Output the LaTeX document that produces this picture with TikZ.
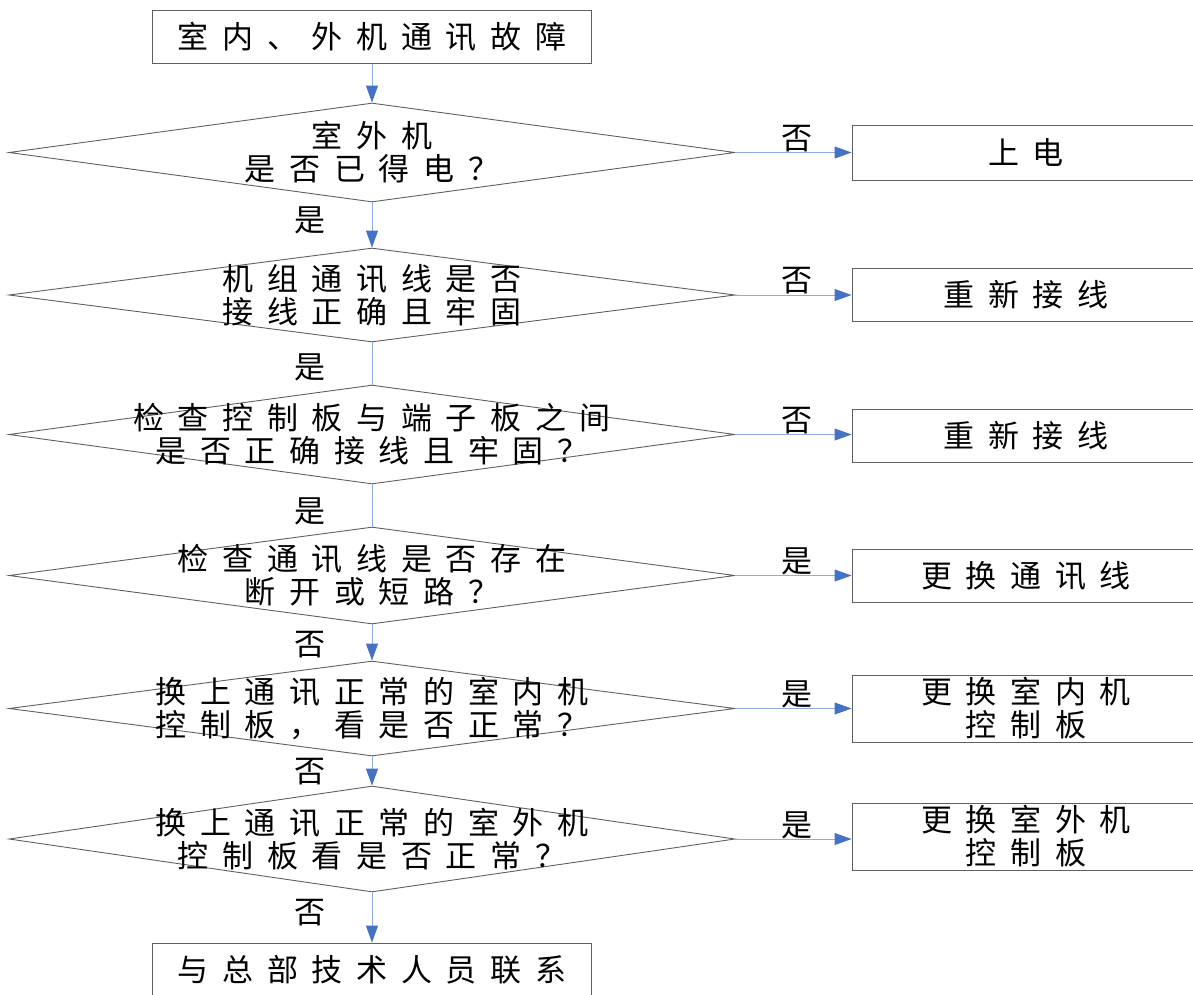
\documentclass[tikz,border=0pt]{standalone}
\usepackage{fontspec}
\newfontfamily\cjk[LetterSpace=44]{Noto Sans CJK SC}
\usetikzlibrary{shapes.geometric,arrows.meta,positioning}
\definecolor{linegray}{RGB}{95,95,95}
\definecolor{flowblue}{RGB}{143,170,220}
\definecolor{tipblue}{RGB}{68,114,196}
\tikzset{
  every node/.style={font=\cjk\fontsize{31}{33}\selectfont},
  stepbox/.style={draw=linegray, line width=0.9pt, rectangle, inner sep=0pt},
  checkd/.style={draw=linegray, line width=0.9pt, diamond, inner sep=0pt, minimum width=726pt},
  txt/.style={align=center, inner sep=0pt},
  flow/.style={draw=flowblue, line width=1pt},
  flowarr/.style={flow, -{Triangle[length=17pt,width=12pt,color=tipblue]}},
  downlbl/.style={xshift=-62pt},
  sidelbl/.style={pos=0.53, yshift=14pt},
}
\begin{document}
\begin{tikzpicture}[x=1pt,y=1pt]
\useasboundingbox (0,0) rectangle (1193,-994);
% main column
\node[stepbox, minimum width=439pt, minimum height=53pt] (start) at (372,-37) {室内、外机通讯故障};
\node[checkd, minimum height=99pt] (d1) at (372,-152.5) {};
\node[txt] (t1) at (d1.center) {室外机\\是否已得电？};
\node[checkd, minimum height=94pt] (d2) at (372,-295) {};
\node[txt] (t2) at (d2.center) {机组通讯线是否\\接线正确且牢固};
\node[checkd, minimum height=99pt] (d3) at (372,-434.5) {};
\node[txt] (t3) at (d3.center) {检查控制板与端子板之间\\是否正确接线且牢固？};
\node[checkd, minimum height=97pt] (d4) at (372,-575.5) {};
\node[txt] (t4) at (d4.center) {检查通讯线是否存在\\断开或短路？};
\node[checkd, minimum height=95pt] (d5) at (372,-708.5) {};
\node[txt] (t5) at (d5.center) {换上通讯正常的室内机\\控制板，看是否正常？};
\node[checkd, minimum height=106pt] (d6) at (372,-839) {};
\node[txt] (t6) at (d6.center) {换上通讯正常的室外机\\控制板看是否正常？};
\node[stepbox, minimum width=439pt, minimum height=54pt] (stop) at (372,-970) {与总部技术人员联系};
% actions on the right
\node[stepbox, minimum width=348pt, minimum height=55pt] (b1) at (1026,-152.5) {上电};
\node[stepbox, minimum width=348pt, minimum height=53pt] (b2) at (1026,-294.5) {重新接线};
\node[stepbox, minimum width=348pt, minimum height=53pt] (b3) at (1026,-435.5) {重新接线};
\node[stepbox, minimum width=348pt, minimum height=53pt] (b4) at (1026,-575.5) {更换通讯线};
\node[stepbox, minimum width=348pt, minimum height=67pt, align=center] (b5) at (1026,-708.5) {更换室内机\\控制板};
\node[stepbox, minimum width=348pt, minimum height=67pt, align=center] (b6) at (1026,-836.5) {更换室外机\\控制板};
% connectors
\draw[flowarr] (start) -- (d1);
\draw[flowarr] (d1) -- node[downlbl, pos=0.39] {是} (d2);
\draw[flow] (d2) -- node[downlbl, pos=0.58] {是} (d3);
\draw[flow] (d3) -- node[downlbl, pos=0.63] {是} (d4);
\draw[flowarr] (d4) -- node[downlbl, pos=0.57] {否} (d5);
\draw[flowarr] (d5) -- node[downlbl, pos=0.53] {否} (d6);
\draw[flowarr] (d6) -- node[downlbl, pos=0.41] {否} (stop);
\draw[flowarr] (d1.east) -- node[sidelbl] {否} (b1.west);
\draw[flowarr] (d2.east) -- node[sidelbl] {否} (d2.east -| b2.west);
\draw[flowarr] (d3.east) -- node[sidelbl] {否} (d3.east -| b3.west);
\draw[flowarr] (d4.east) -- node[sidelbl] {是} (b4.west);
\draw[flowarr] (d5.east) -- node[sidelbl] {是} (b5.west);
\draw[flowarr] (d6.east) -- node[sidelbl] {是} (d6.east -| b6.west);
\end{tikzpicture}
\end{document}
